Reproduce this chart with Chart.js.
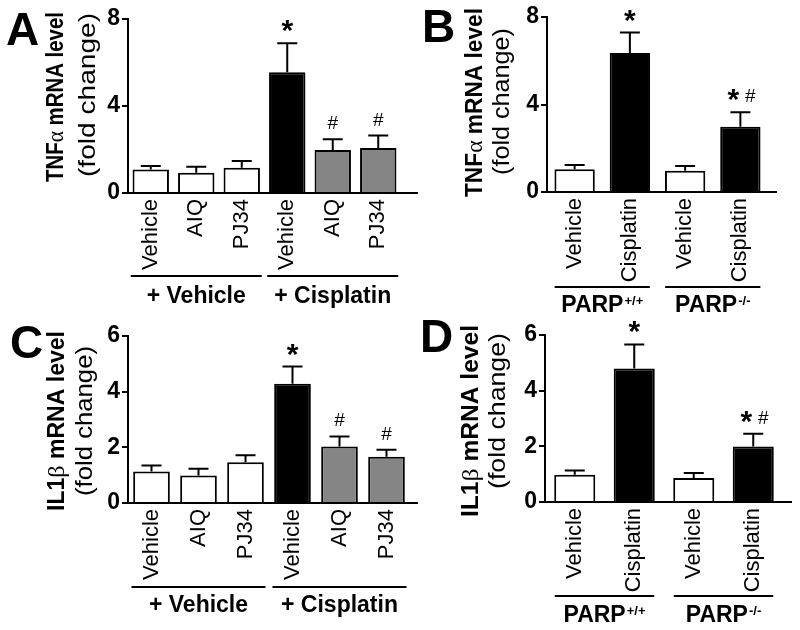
<!DOCTYPE html>
<html>
<head>
<meta charset="utf-8">
<script src="https://cdn.jsdelivr.net/npm/chart.js@4.4.0/dist/chart.umd.min.js"></script>
<style>
  body { margin: 0; background: #fff; }
  #wrap { position: relative; width: 800px; height: 630px; overflow: hidden; }
  canvas { position: absolute; }
</style>
</head>
<body>
<div id="wrap">
  <canvas id="chartA" width="420" height="320" style="left:0;top:0"></canvas>
  <canvas id="chartB" width="380" height="320" style="left:420px;top:0"></canvas>
  <canvas id="chartC" width="420" height="320" style="left:0;top:310px"></canvas>
  <canvas id="chartD" width="380" height="320" style="left:420px;top:310px"></canvas>
</div>
<script>
// ---------- DATA ----------
const labelsInhib = ["Vehicle", "AIQ", "PJ34", "Vehicle", "AIQ", "PJ34"];
const labelsKO = ["Vehicle", "Cisplatin", "Vehicle", "Cisplatin"];

const groupsInhib = [
    { text: "+ Vehicle", from: 0, to: 2 },
    { text: "+ Cisplatin", from: 3, to: 5 }
];
const groupsKO = [
    { text: "PARP", sup: "+/+", from: 0, to: 1 },
    { text: "PARP", sup: "-/-", from: 2, to: 3 }
];

// A: TNFα, PARP inhibitors
const tnfInhibMean = [1.08, 0.93, 1.16, 5.55, 1.98, 2.07];
const tnfInhibSem = [0.16, 0.28, 0.31, 1.33, 0.49, 0.57];
// B: TNFα, PARP knockout
const tnfKoMean = [1.04, 6.36, 0.97, 2.98];
const tnfKoSem = [0.19, 0.93, 0.22, 0.67];
// C: IL1β, PARP inhibitors
const il1InhibMean = [1.13, 0.99, 1.46, 4.28, 2.03, 1.66];
const il1InhibSem = [0.22, 0.24, 0.26, 0.62, 0.36, 0.25];
// D: IL1β, PARP knockout
const il1KoMean = [0.98, 4.80, 0.86, 1.99];
const il1KoSem = [0.15, 0.86, 0.18, 0.46];

const inhibMarks = ["", "", "", "*", "#", "#"];
const koMarks = ["", "*", "", "*#"];

const inhibColors = ["#ffffff", "#ffffff", "#ffffff", "#000000", "#858585", "#858585"];
const koColors = ["#ffffff", "#000000", "#ffffff", "#000000"];

const tnfMax = 8, tnfStep = 4;
const il1Max = 6, il1Step = 2;

// ---------- STYLE ----------
const FONT = '"Liberation Sans", Arial, Helvetica, sans-serif';
const SERIF = '"Liberation Serif", "DejaVu Serif", serif';
const X_AXIS_H = 100;
const CAP = 10;
const GROUP_EXT = 20;

Chart.defaults.font.family = FONT;
Chart.defaults.color = "#000";

// draw a run of text segments rotated -90deg, stretched to a given length
function drawRotated(ctx, segs, cx, cy, len, off) {
    let w = 0;
    segs.forEach(s => { ctx.font = s.font; w += ctx.measureText(s.t).width; });
    const k = len / w;
    ctx.save();
    ctx.translate(cx, cy);
    ctx.rotate(-Math.PI / 2);
    ctx.scale(k, 1);
    ctx.textBaseline = "alphabetic";
    ctx.textAlign = "left";
    let pos = -w / 2;
    segs.forEach(s => {
        ctx.font = s.font;
        ctx.fillText(s.t, pos, off);
        pos += ctx.measureText(s.t).width;
    });
    ctx.restore();
}

function extrasPlugin(cfg) {
    return {
        id: "extras" + cfg.letter,
        afterDatasetsDraw(chart) {
            const ctx = chart.ctx;
            const ys = chart.scales.y;
            const xs = chart.scales.x;
            const ca = chart.chartArea;
            const meta = chart.getDatasetMeta(0);
            ctx.save();
            ctx.strokeStyle = "#000";
            ctx.fillStyle = "#000";
            ctx.lineWidth = 2;

            // x axis runs on past the last bar
            const yb = Math.round(ca.bottom);
            ctx.beginPath();
            ctx.moveTo(ca.right - 1, yb);
            ctx.lineTo(cfg.axisEnd, yb);
            ctx.stroke();

            // one-sided error bars + significance marks
            meta.data.forEach((bar, i) => {
                const top = ys.getPixelForValue(cfg.means[i] + cfg.sems[i]);
                ctx.beginPath();
                ctx.moveTo(bar.x, bar.y);
                ctx.lineTo(bar.x, top);
                ctx.moveTo(bar.x - CAP, top);
                ctx.lineTo(bar.x + CAP, top);
                ctx.stroke();

                const m = cfg.marks[i];
                ctx.textAlign = "center";
                ctx.textBaseline = "alphabetic";
                if (m === "*") {
                    ctx.font = "bold 30px " + FONT;
                    ctx.fillText("*", bar.x, top - 3);
                } else if (m === "#") {
                    ctx.font = "19px " + FONT;
                    ctx.fillText("#", bar.x, top - 10);
                } else if (m === "*#") {
                    ctx.font = "bold 30px " + FONT;
                    ctx.fillText("*", bar.x - 7, top - 3);
                    ctx.font = "19px " + FONT;
                    ctx.fillText("#", bar.x + 10, top - 10);
                }
            });

            // group bars + group names under the tick labels
            cfg.groups.forEach(g => {
                const x1 = xs.getPixelForValue(g.from) - GROUP_EXT;
                const x2 = xs.getPixelForValue(g.to) + GROUP_EXT;
                const ly = Math.round(ca.bottom + cfg.groupLineOff);
                ctx.beginPath();
                ctx.moveTo(x1, ly);
                ctx.lineTo(x2, ly);
                ctx.stroke();

                const cx = (x1 + x2) / 2;
                const ty = ca.bottom + cfg.groupTextOff;
                ctx.textBaseline = "alphabetic";
                ctx.font = "bold 23px " + FONT;
                const wMain = ctx.measureText(g.text).width;
                let wSup = 0;
                if (g.sup) {
                    ctx.font = "bold 13px " + FONT;
                    wSup = ctx.measureText(g.sup).width + 1;
                }
                const start = cx - (wMain + wSup) / 2;
                ctx.textAlign = "left";
                ctx.font = "bold 23px " + FONT;
                ctx.fillText(g.text, start, ty);
                if (g.sup) {
                    ctx.font = "bold 13px " + FONT;
                    ctx.fillText(g.sup, start + wMain + 1, ty - 7);
                }
            });
            ctx.restore();
        },
        afterDraw(chart) {
            const ctx = chart.ctx;
            ctx.save();
            ctx.fillStyle = "#000";
            // y axis title, two lines
            drawRotated(ctx, [
                { t: cfg.titleStem, font: "bold 23px " + FONT },
                { t: cfg.titleGreek, font: "24px " + SERIF },
                { t: " mRNA level", font: "bold 23px " + FONT }
            ], cfg.bold.cx, cfg.bold.cy, cfg.bold.len, 8);
            drawRotated(ctx, [
                { t: "(fold change)", font: "24px " + FONT }
            ], cfg.normal.cx, cfg.normal.cy, cfg.normal.len, 6.5);

            // panel letter
            ctx.font = "bold 46px " + FONT;
            ctx.textAlign = "left";
            ctx.textBaseline = "alphabetic";
            ctx.fillText(cfg.letter, cfg.letterPos.x, cfg.letterPos.y);
            ctx.restore();
        }
    };
}

function makePanel(canvasId, cfg) {
    const ctx = document.getElementById(canvasId).getContext("2d");
    const cv = ctx.canvas;
    const area = cfg.area;

    return new Chart(ctx, {
        type: "bar",
        data: {
            labels: cfg.labels,
            datasets: [{
                data: cfg.means,
                backgroundColor: cfg.colors,
                borderColor: "#000",
                borderWidth: 2,
                borderSkipped: "bottom",
                barPercentage: cfg.barPct,
                categoryPercentage: 1
            }]
        },
        options: {
            responsive: false,
            animation: false,
            devicePixelRatio: 1,
            layout: {
                padding: {
                    left: 0,
                    top: area.top,
                    right: cv.width - area.right,
                    bottom: cv.height - area.bottom - X_AXIS_H
                }
            },
            plugins: {
                legend: { display: false },
                tooltip: { enabled: false }
            },
            scales: {
                x: {
                    grid: { display: false, drawTicks: false },
                    border: { display: true, color: "#000", width: 2 },
                    ticks: {
                        color: "#000",
                        font: { size: 22 },
                        minRotation: 90,
                        maxRotation: 90,
                        autoSkip: false,
                        padding: 6
                    },
                    afterFit: s => { s.height = X_AXIS_H; }
                },
                y: {
                    min: 0,
                    max: cfg.yMax,
                    grid: {
                        display: true,
                        drawOnChartArea: false,
                        drawTicks: true,
                        tickLength: 6,
                        color: "#000",
                        lineWidth: 2
                    },
                    border: { display: true, color: "#000", width: 2 },
                    ticks: {
                        stepSize: cfg.yStep,
                        color: "#000",
                        font: { size: 23, weight: "bold" },
                        padding: 2
                    },
                    afterFit: s => { s.width = area.left; }
                }
            }
        },
        plugins: [extrasPlugin(cfg)]
    });
}

makePanel("chartA", {
    letter: "A", letterPos: { x: 6, y: 45 },
    labels: labelsInhib, means: tnfInhibMean, sems: tnfInhibSem,
    marks: inhibMarks, colors: inhibColors, groups: groupsInhib,
    yMax: tnfMax, yStep: tnfStep,
    titleStem: "TNF", titleGreek: "\u03B1",
    area: { left: 128, top: 19, right: 401, bottom: 193 },
    axisEnd: 418, barPct: 0.80,
    bold: { cx: 55, cy: 97, len: 170 }, normal: { cx: 88, cy: 95, len: 164 },
    groupLineOff: 83, groupTextOff: 109.5
});

makePanel("chartB", {
    letter: "B", letterPos: { x: 2, y: 42 },
    labels: labelsKO, means: tnfKoMean, sems: tnfKoSem,
    marks: koMarks, colors: koColors, groups: groupsKO,
    yMax: tnfMax, yStep: tnfStep,
    titleStem: "TNF", titleGreek: "\u03B1",
    area: { left: 127, top: 17, right: 348, bottom: 192 },
    axisEnd: 357, barPct: 0.73,
    bold: { cx: 54, cy: 102.5, len: 189 }, normal: { cx: 82, cy: 101.5, len: 147 },
    groupLineOff: 95, groupTextOff: 120
});

makePanel("chartC", {
    letter: "C", letterPos: { x: 10, y: 48 },
    labels: labelsInhib, means: il1InhibMean, sems: il1InhibSem,
    marks: inhibMarks, colors: inhibColors, groups: groupsInhib,
    yMax: il1Max, yStep: il1Step,
    titleStem: "IL1", titleGreek: "\u03B2",
    area: { left: 128, top: 26, right: 410, bottom: 193 },
    axisEnd: 418, barPct: 0.78,
    bold: { cx: 56, cy: 111, len: 180 }, normal: { cx: 85, cy: 111, len: 150 },
    groupLineOff: 84, groupTextOff: 109
});

makePanel("chartD", {
    letter: "D", letterPos: { x: 0, y: 42 },
    labels: labelsKO, means: il1KoMean, sems: il1KoSem,
    marks: koMarks, colors: koColors, groups: groupsKO,
    yMax: il1Max, yStep: il1Step,
    titleStem: "IL1", titleGreek: "\u03B2",
    area: { left: 125, top: 25, right: 363, bottom: 192 },
    axisEnd: 372, barPct: 0.69,
    bold: { cx: 50, cy: 111, len: 192 }, normal: { cx: 78, cy: 101, len: 156 },
    groupLineOff: 94, groupTextOff: 120
});
</script>
</body>
</html>
